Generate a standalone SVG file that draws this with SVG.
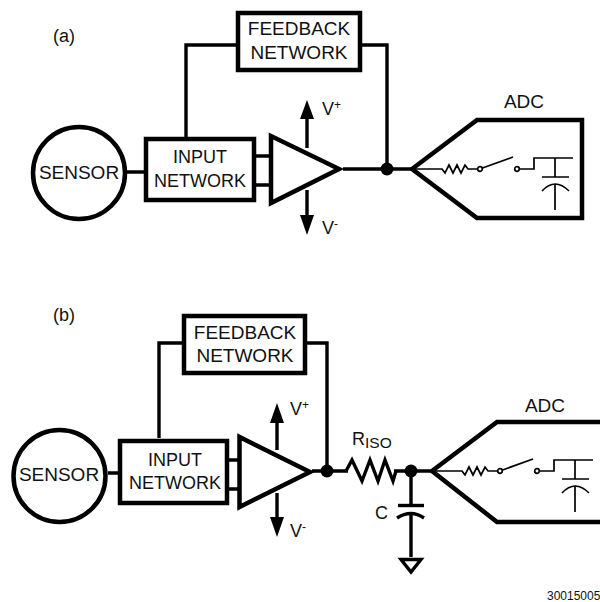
<svg xmlns="http://www.w3.org/2000/svg" width="600" height="602" viewBox="0 0 600 602">
<defs><style>
text{font-family:"Liberation Sans",Arial,sans-serif;fill:#111;font-size:18px}
.f{font-size:19px}
.m{text-anchor:middle}
.b{fill:none;stroke:#000;stroke-width:4.5}
.w{fill:none;stroke:#000;stroke-width:3.4}
.t{fill:none;stroke:#000;stroke-width:1.7}
.h{fill:none;stroke:#000;stroke-width:4.5;stroke-linejoin:miter}
.d{fill:#000}
</style>
<g id="adcinner">
<path class="t" d="M0 0H30L33 4 37 -4 41 4 45 -4 49 4 53 -4 56 0H65"/>
<circle class="t" cx="68" cy="0" r="2.3"/>
<path class="t" d="M70.500 -1L101 -12"/>
<circle class="t" cx="105" cy="0" r="2.300"/>
<path class="t" d="M107.500 0H122V-11H161M143 -11V8M130 8H157M143 15V41M130 22Q143 8 157 22"/>
</g></defs>
<g id="connectors">
<path class="w" d="M236 45H186V137M362 45H387V169M126 172H145M256 156H270M256 185H270M343 169H411M307 117V148M307 190V217"/>
<path class="w" d="M182 343H159V438M307 343H327V471M108 473H118M229 460H238M229 489H238M312 471H348M394 471H432M411 471V505M411 515V557M277 421V450M277 493V519"/>
<path class="w" d="M346 471L352 460 362 481 370 460 378 481 385 460 393 481 396 471"/>
</g>
<g id="label-a"><text x="53" y="42">(a)</text></g>
<g id="feedback-a"><rect class="b" x="238" y="13" width="122" height="57"/><text class="m f" x="299" y="35">FEEDBACK</text><text class="m f" x="299" y="59">NETWORK</text></g>
<g id="sensor-a"><circle class="b" cx="79" cy="173" r="46"/><text class="m f" x="79" y="179">SENSOR</text></g>
<g id="input-a"><rect class="b" x="146" y="139" width="108" height="61"/><text class="m" x="200" y="163">INPUT</text><text class="m" x="200" y="187">NETWORK</text></g>
<g id="amp-a"><path class="h" d="M271 136V203L339 169Z"/><path class="d" d="M307 100L314 119H300ZM307 235L314 215H300Z"/><text x="322" y="115">V<tspan dy="-6" font-size="12">+</tspan></text><text x="322" y="234">V<tspan dy="-6" font-size="12">-</tspan></text></g>
<g id="dot-a"><circle class="d" cx="387" cy="169" r="6.5"/></g>
<g id="adc-a"><path class="h" d="M412 169L477 120H582V218H477Z"/><text class="m f" x="524" y="108">ADC</text><use href="#adcinner" x="412" y="169"/></g>
<g id="label-b"><text x="53" y="321">(b)</text></g>
<g id="feedback-b"><rect class="b" x="184" y="316" width="121" height="57"/><text class="m f" x="245" y="339">FEEDBACK</text><text class="m f" x="245" y="362">NETWORK</text></g>
<g id="sensor-b"><circle class="b" cx="59.500" cy="476" r="46"/><text class="m f" x="59" y="481">SENSOR</text></g>
<g id="input-b"><rect class="b" x="120" y="441" width="107" height="62"/><text class="m" x="175" y="466">INPUT</text><text class="m" x="175" y="489">NETWORK</text></g>
<g id="amp-b"><path class="h" d="M239.500 437V507L310 472Z"/><path class="d" d="M277 403L284 423H270ZM277 537L284 517H270Z"/><text x="290" y="415">V<tspan dy="-6" font-size="12">+</tspan></text><text x="290" y="537">V<tspan dy="-6" font-size="12">-</tspan></text></g>
<g id="dot-b1"><circle class="d" cx="327" cy="471" r="6.5"/></g>
<g id="riso"><text x="352" y="445">R<tspan font-size="15.500" dy="3">ISO</tspan></text></g>
<g id="dot-b2"><circle class="d" cx="411" cy="471" r="6.5"/></g>
<g id="cap"><path class="w" d="M398 505.500H424"/><path class="w" d="M397 518Q411 509 424 518"/><text x="375" y="519">C</text></g>
<g id="gnd"><path class="w" d="M401 559.500H421L411 572Z"/></g>
<g id="adc-b"><path class="h" d="M600 422H497L432 471L497 522H600"/><text class="m f" x="545" y="412">ADC</text><use href="#adcinner" x="432" y="471"/></g>
<g id="code"><text x="547" y="600" style="font-size:12px">30015005</text></g>
</svg>
